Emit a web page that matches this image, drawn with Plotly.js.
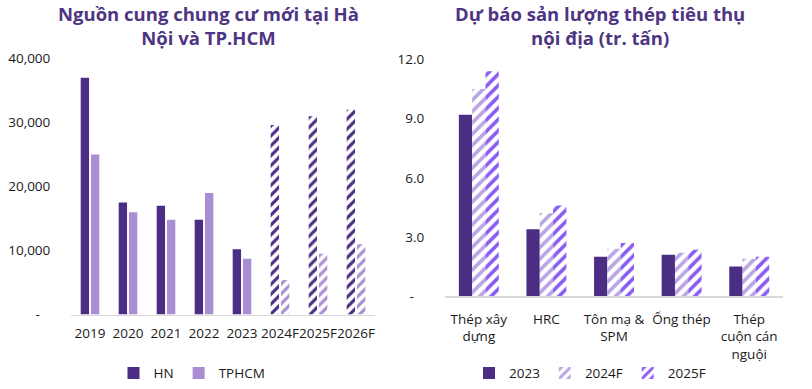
<!DOCTYPE html>
<html><head><meta charset="utf-8">
<script src="https://cdn.plot.ly/plotly-3.0.1.min.js"></script>
<style>html,body{margin:0;padding:0;background:#fff}#c{width:812px;height:389px}</style>
</head><body><div id="c"></div>
<script>
// Left chart data
const years = ["2019","2020","2021","2022","2023","2024F","2025F","2026F"];
const hn    = [37000, 17500, 17000, 14800, 10200, 29600, 31000, 32000];
const tphcm = [25000, 16000, 14800, 19000, 8700, 5400, 9500, 11000];
const leftTickVals = [0, 10000, 20000, 30000, 40000];
const leftTickText = ["-\u00a0\u00a0\u00a0", "10,000", "20,000", "30,000", "40,000"];

// Right chart data
const steelCats = ["Thép xây<br>dựng", "HRC", "Tôn mạ &<br>SPM", "Ống thép", "Thép<br>cuộn cán<br>nguội"];
const s2023  = [9.2, 3.4, 2.0, 2.1, 1.5];
const s2024F = [10.5, 4.2, 2.4, 2.2, 1.9];
const s2025F = [11.4, 4.6, 2.7, 2.35, 2.0];
const rightTickVals = [0, 3, 6, 9, 12];
const rightTickText = ["-\u00a0\u00a0\u00a0", "3.0", "6.0", "9.0", "12.0"];

const DARK = "#4B2E83", LIGHT = "#A98FD2", PALE = "#B9A4E4", VIVID = "#8A5CF0", TITLE = "#4E3583";
const FONT = "'Open Sans', sans-serif";
const W = 812, H = 389;
const px = v => v / W, py = v => 1 - v / H;

const hnShapes = years.map(y => y.endsWith("F") ? "/" : "");
const hcShapes = years.map(y => y.endsWith("F") ? "/" : "");

const traces = [
  {type:"bar", name:"HN", x:years, y:hn, xaxis:"x", yaxis:"y", width:0.22, offset:-0.245,
   marker:{color:DARK, pattern:{shape:hnShapes, fillmode:"replace", size:7, solidity:0.45, bgcolor:"#fff"}},
   legend:"legend", hoverinfo:"skip"},
  {type:"bar", name:"TPHCM", x:years, y:tphcm, xaxis:"x", yaxis:"y", width:0.22, offset:0.025,
   marker:{color:LIGHT, pattern:{shape:hcShapes, fillmode:"replace", size:7, solidity:0.45, bgcolor:"#fff"}},
   legend:"legend", hoverinfo:"skip"},
  {type:"bar", name:"2023", x:steelCats, y:s2023, xaxis:"x2", yaxis:"y2", width:0.197, offset:-0.295,
   marker:{color:DARK}, legend:"legend2", hoverinfo:"skip"},
  {type:"bar", name:"2024F", x:steelCats, y:s2024F, xaxis:"x2", yaxis:"y2", width:0.197, offset:-0.098,
   marker:{color:PALE, pattern:{shape:"/", fillmode:"replace", size:8, solidity:0.45, bgcolor:"#fff"}},
   legend:"legend2", hoverinfo:"skip"},
  {type:"bar", name:"2025F", x:steelCats, y:s2025F, xaxis:"x2", yaxis:"y2", width:0.197, offset:0.099,
   marker:{color:VIVID, pattern:{shape:"/", fillmode:"replace", size:8, solidity:0.45, bgcolor:"#fff"}},
   legend:"legend2", hoverinfo:"skip"}
];

const tickFont = {family:FONT, size:13.5, color:"#1a1a1a"};
const layout = {
  width:W, height:H, margin:{l:0, r:0, t:0, b:0},
  paper_bgcolor:"#fff", plot_bgcolor:"#fff",
  showlegend:true, barmode:"overlay",
  font:{family:FONT, size:13.5, color:"#1a1a1a"},
  xaxis:{domain:[px(71), px(375)], anchor:"y", type:"category", range:[-0.5, 7.5],
         showline:true, linecolor:"#D9D9D9", linewidth:1.5, showgrid:false, zeroline:false,
         ticks:"outside", ticklen:6, tickcolor:"rgba(0,0,0,0)", tickfont:tickFont, tickangle:0, automargin:false, fixedrange:true},
  yaxis:{domain:[py(317), py(59)], anchor:"x", range:[0, 40000], tickvals:leftTickVals, ticktext:leftTickText,
         showline:false, showgrid:false, zeroline:false,
         ticks:"outside", ticklen:17, tickcolor:"rgba(0,0,0,0)", tickfont:tickFont, automargin:false, fixedrange:true},
  xaxis2:{domain:[px(445), px(783)], anchor:"y2", type:"category", range:[-0.5, 4.5],
         showline:true, linecolor:"#D9D9D9", linewidth:1.5, showgrid:false, zeroline:false,
         ticks:"outside", ticklen:10, tickcolor:"rgba(0,0,0,0)", tickfont:tickFont, tickangle:0, automargin:false, fixedrange:true},
  yaxis2:{domain:[py(298.5), py(60)], anchor:"x2", range:[0, 12], tickvals:rightTickVals, ticktext:rightTickText,
         showline:false, showgrid:false, zeroline:false,
         ticks:"outside", ticklen:17, tickcolor:"rgba(0,0,0,0)", tickfont:tickFont, automargin:false, fixedrange:true},
  legend:{orientation:"h", x:px(192), xanchor:"center", y:py(376), yanchor:"middle",
          font:{family:FONT, size:13.5, color:"#1a1a1a"}, bgcolor:"rgba(0,0,0,0)", itemwidth:30, tracegroupgap:0},
  legend2:{orientation:"h", x:px(590), xanchor:"center", y:py(376), yanchor:"middle",
          font:{family:FONT, size:13.5, color:"#1a1a1a"}, bgcolor:"rgba(0,0,0,0)", itemwidth:30, tracegroupgap:0},
  annotations:[
    {text:"<b>Nguồn cung chung cư mới tại Hà<br>Nội và TP.HCM</b>", xref:"paper", yref:"paper",
     x:px(208), y:py(-1), xanchor:"center", yanchor:"top", showarrow:false, align:"center",
     font:{family:FONT, size:18.5, color:TITLE}},
    {text:"<b>Dự báo sản lượng thép tiêu thụ<br>nội địa (tr. tấn)</b>", xref:"paper", yref:"paper",
     x:px(600), y:py(-1), xanchor:"center", yanchor:"top", showarrow:false, align:"center",
     font:{family:FONT, size:18.5, color:TITLE}}
  ]
};

Plotly.newPlot("c", traces, layout, {displayModeBar:false, staticPlot:true});
</script>
</body></html>
